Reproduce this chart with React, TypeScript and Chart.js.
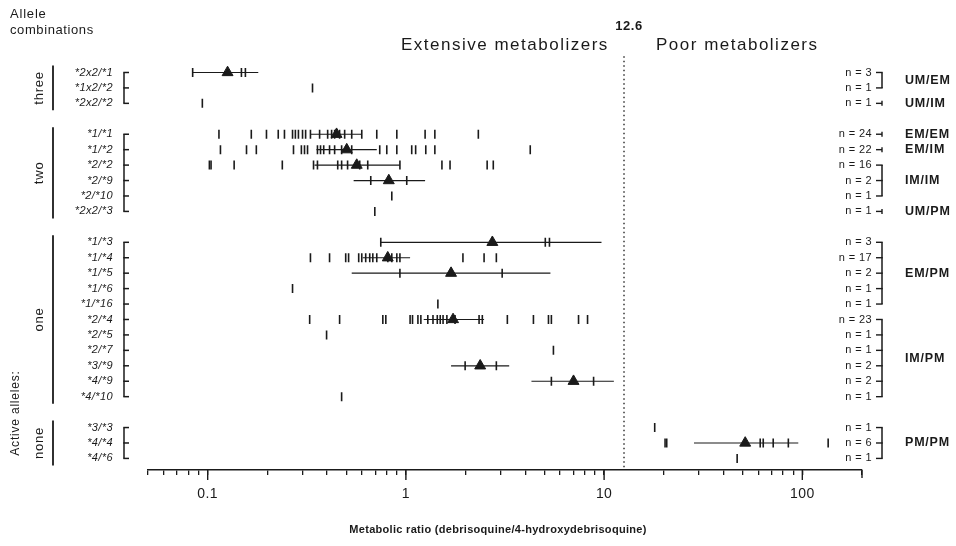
import React, { useEffect, useRef } from 'react';
import { Chart, registerables } from 'chart.js';

Chart.register(...registerables);

// ---------- data ----------
const genotypes = [
  '*2x2/*1', '*1x2/*2', '*2x2/*2',
  '*1/*1', '*1/*2', '*2/*2', '*2/*9', '*2/*10', '*2x2/*3',
  '*1/*3', '*1/*4', '*1/*5', '*1/*6', '*1/*16', '*2/*4', '*2/*5', '*2/*7', '*3/*9', '*4/*9', '*4/*10',
  '*3/*3', '*4/*4', '*4/*6',
];
// vertical slot of each genotype row (blank slots separate the allele groups)
const rowSlots = [0, 1, 2, 4, 5, 6, 7, 8, 9, 11, 12, 13, 14, 15, 16, 17, 18, 19, 20, 21, 23, 24, 25];

const ratios_2x2_1 = [0.084, 0.148, 0.155];
const ratios_1x2_2 = [0.338];
const ratios_2x2_2 = [0.094];
const ratios_1_1 = [0.114, 0.166, 0.198, 0.227, 0.244, 0.268, 0.277, 0.287, 0.301, 0.312, 0.33, 0.367, 0.403, 0.422, 0.437, 0.463, 0.491, 0.533, 0.599, 0.713, 0.9, 1.25, 1.4, 2.32];
const ratios_1_2 = [0.116, 0.157, 0.176, 0.271, 0.297, 0.308, 0.319, 0.358, 0.371, 0.385, 0.412, 0.437, 0.474, 0.533, 0.738, 0.801, 0.9, 1.07, 1.12, 1.26, 1.4, 4.24];
const ratios_2_2 = [0.102, 0.104, 0.136, 0.238, 0.342, 0.358, 0.453, 0.474, 0.508, 0.585, 0.642, 0.933, 1.52, 1.67, 2.57, 2.76];
const ratios_2_9 = [0.665, 1.01];
const ratios_2_10 = [0.849];
const ratios_2x2_3 = [0.697];
const ratios_1_3 = [0.747, 5.05, 5.3];
const ratios_1_4 = [0.33, 0.412, 0.497, 0.514, 0.578, 0.599, 0.627, 0.657, 0.681, 0.713, 0.811, 0.849, 0.9, 0.933, 1.94, 2.48, 2.86];
const ratios_1_5 = [0.933, 3.06];
const ratios_1_6 = [0.268];
const ratios_1_16 = [1.45];
const ratios_2_4 = [0.327, 0.463, 0.765, 0.792, 1.05, 1.08, 1.15, 1.19, 1.29, 1.37, 1.44, 1.49, 1.54, 1.61, 1.77, 2.34, 2.43, 3.25, 4.4, 5.24, 5.42, 7.43, 8.25];
const ratios_2_5 = [0.398];
const ratios_2_7 = [5.55];
const ratios_3_9 = [1.99, 2.86];
const ratios_4_9 = [5.42, 8.85];
const ratios_4_10 = [0.474];
const ratios_3_3 = [18.0];
const ratios_4_4 = [20.3, 20.7, 61.3, 63.5, 71.3, 85.0, 135];
const ratios_4_6 = [46.9];

const individualRatios = [
  ratios_2x2_1, ratios_1x2_2, ratios_2x2_2,
  ratios_1_1, ratios_1_2, ratios_2_2, ratios_2_9, ratios_2_10, ratios_2x2_3,
  ratios_1_3, ratios_1_4, ratios_1_5, ratios_1_6, ratios_1_16, ratios_2_4, ratios_2_5, ratios_2_7, ratios_3_9, ratios_4_9, ratios_4_10,
  ratios_3_3, ratios_4_4, ratios_4_6,
];

const meanRatios = [0.126, null, null, 0.447, 0.503, 0.565, 0.82, null, null, 2.73, 0.81, 1.69, null, null, 1.73, null, null, 2.37, 7.01, null, null, 51.5, null];
const barLow = [0.0835, null, null, 0.33, 0.354, 0.346, 0.545, null, null, 0.747, 0.606, 0.533, null, null, 1.23, null, null, 1.69, 4.3, null, null, 28.4, null];
const barHigh = [0.18, null, null, 0.6, 0.713, 0.933, 1.25, null, null, 9.7, 1.05, 5.36, null, null, 2.48, null, null, 3.32, 11.2, null, null, 95.4, null];

const nCounts = [3, 1, 1, 24, 22, 16, 2, 1, 1, 3, 17, 2, 1, 1, 23, 1, 1, 2, 2, 1, 1, 6, 1];

const phenotypeLabels = ['UM/EM', 'UM/IM', 'EM/EM', 'EM/IM', 'IM/IM', 'UM/PM', 'EM/PM', 'IM/PM', 'PM/PM'];
const phenotypeFirst = [0, 2, 3, 4, 5, 8, 9, 14, 20];
const phenotypeLast = [1, 2, 3, 4, 7, 8, 13, 19, 22];

const alleleGroupLabels = ['three', 'two', 'one', 'none'];
const alleleGroupFirst = [0, 3, 9, 20];
const alleleGroupLast = [2, 8, 19, 22];

const threshold = 12.6;
const xTickValues = [0.05, 0.06, 0.07, 0.08, 0.09, 0.1, 0.2, 0.3, 0.4, 0.5, 0.6, 0.7, 0.8, 0.9, 1, 2, 3, 4, 5, 6, 7, 8, 9, 10, 20, 30, 40, 50, 60, 70, 80, 90, 100, 200];
const xMajorTicks = [0.1, 1, 10, 100];
const xTickLabels = ['0.1', '1', '10', '100'];

// ---------- styling ----------
const INK = '#1a1a1a';
const FONT = '"Liberation Sans", Arial, Helvetica, sans-serif';

function drawText(ctx: CanvasRenderingContext2D, str: string, x: number, y: number, font: string, align: CanvasTextAlign = 'left', rotate = 0, spacing = '0px') {
  ctx.save();
  ctx.font = font;
  ctx.fillStyle = INK;
  ctx.textAlign = align;
  ctx.textBaseline = 'middle';
  try { (ctx as any).letterSpacing = spacing; } catch (e) { /* ignore */ }
  ctx.translate(x, y);
  if (rotate) ctx.rotate(rotate);
  ctx.fillText(str, 0, 0);
  ctx.restore();
}

function line(ctx: CanvasRenderingContext2D, pts: number[][], w = 1.4) {
  ctx.save();
  ctx.strokeStyle = INK;
  ctx.lineWidth = w;
  ctx.beginPath();
  pts.forEach((p, i) => (i === 0 ? ctx.moveTo(p[0], p[1]) : ctx.lineTo(p[0], p[1])));
  ctx.stroke();
  ctx.restore();
}

const decorations = {
  id: 'decorations',
  beforeDraw(chart: any) {
    const ctx = chart.ctx as CanvasRenderingContext2D;
    ctx.save();
    ctx.fillStyle = '#ffffff';
    ctx.fillRect(0, 0, chart.width, chart.height);
    ctx.restore();
    try { (ctx as any).letterSpacing = '0.4px'; } catch (e) { /* ignore */ }
  },
  afterDraw(chart: any) {
    const ctx = chart.ctx as CanvasRenderingContext2D;
    const xs = chart.scales.x;
    const ys = chart.scales.y;
    const py = (i: number) => ys.getPixelForValue(rowSlots[i]);
    const bottom = chart.chartArea.bottom;

    // major tick extensions
    xMajorTicks.forEach((v) => {
      const px = xs.getPixelForValue(v);
      line(ctx, [[px, bottom], [px, bottom + 10]], 1.4);
    });
    const pEnd = xs.getPixelForValue(200);
    line(ctx, [[pEnd, bottom], [pEnd, bottom + 8]], 1.4);

    // headers
    drawText(ctx, 'Allele', 10, 14, `13px ${FONT}`, 'left', 0, '0.8px');
    drawText(ctx, 'combinations', 10, 30, `13px ${FONT}`, 'left', 0, '0.6px');
    drawText(ctx, 'Extensive metabolizers', 401, 45, `17px ${FONT}`, 'left', 0, '1.5px');
    drawText(ctx, 'Poor metabolizers', 656, 45, `17px ${FONT}`, 'left', 0, '1.5px');
    drawText(ctx, String(threshold), xs.getPixelForValue(threshold) + 5, 26, `bold 13px ${FONT}`, 'center', 0, '0.5px');
    drawText(ctx, 'Active alleles:', 16, 413, `12px ${FONT}`, 'center', -Math.PI / 2, '0.8px');
    drawText(ctx, 'Metabolic ratio (debrisoquine/4-hydroxydebrisoquine)', 498, 530, `bold 11px ${FONT}`, 'center', 0, '0.3px');

    // allele groups (left)
    alleleGroupLabels.forEach((name, g) => {
      const y0 = py(alleleGroupFirst[g]);
      const y1 = py(alleleGroupLast[g]);
      line(ctx, [[53, y0 - 7], [53, y1 + 7]], 1.8);
      drawText(ctx, name, 39, (y0 + y1) / 2, `13px ${FONT}`, 'center', -Math.PI / 2, '0.8px');
      line(ctx, [[124, y0], [124, y1]], 1.5);
      for (let i = alleleGroupFirst[g]; i <= alleleGroupLast[g]; i++) {
        const yy = py(i);
        line(ctx, [[123.3, yy], [129, yy]], 1.5);
      }
    });

    // n counts (right)
    nCounts.forEach((n, i) => {
      drawText(ctx, `n = ${n}`, 872, py(i), `11px ${FONT}`, 'right', 0, '0.4px');
    });

    // phenotype brackets
    phenotypeLabels.forEach((lab, g) => {
      const a = phenotypeFirst[g];
      const b = phenotypeLast[g];
      const y0 = py(a);
      const y1 = py(b);
      if (a === b) {
        line(ctx, [[876, y0], [882, y0]], 1.4);
        line(ctx, [[882, y0 - 2.5], [882, y0 + 2.5]], 1.4);
      } else {
        line(ctx, [[882, y0], [882, y1]], 1.5);
        for (let i = a; i <= b; i++) {
          const yy = py(i);
          line(ctx, [[876, yy], [882.7, yy]], 1.4);
        }
      }
      drawText(ctx, lab, 905, (y0 + y1) / 2, `bold 12.5px ${FONT}`, 'left', 0, '0.8px');
    });
  },
};

export default function App() {
  const ref = useRef<HTMLCanvasElement>(null);

  useEffect(() => {
    const canvas = ref.current;
    if (!canvas) return;

    const pointData: { x: number; y: number }[] = [];
    individualRatios.forEach((vals, i) => vals.forEach((v) => pointData.push({ x: v, y: rowSlots[i] })));

    const meanData: { x: number; y: number }[] = [];
    const barData: { x: number; y: number | null }[] = [];
    meanRatios.forEach((m, i) => {
      if (m == null) return;
      meanData.push({ x: m, y: rowSlots[i] });
      barData.push({ x: barLow[i] as number, y: rowSlots[i] });
      barData.push({ x: barHigh[i] as number, y: rowSlots[i] });
      barData.push({ x: barHigh[i] as number, y: null });
    });

    const chart = new Chart(canvas, {
      type: 'scatter',
      data: {
        datasets: [
          {
            label: 'mean',
            data: meanData,
            pointStyle: 'triangle',
            pointRadius: 6.3,
            pointHoverRadius: 6.3,
            backgroundColor: INK,
            borderColor: INK,
            borderWidth: 1,
          },
          {
            label: 'individuals',
            data: pointData,
            pointStyle: 'line',
            rotation: 90,
            pointRadius: 4.5,
            pointHoverRadius: 4.5,
            borderColor: INK,
            backgroundColor: INK,
            borderWidth: 1.6,
          },
          {
            label: 'range',
            data: barData as any,
            showLine: true,
            spanGaps: false,
            pointRadius: 0,
            pointHoverRadius: 0,
            borderColor: INK,
            borderWidth: 1.2,
          },
          {
            label: 'threshold',
            data: [{ x: threshold, y: -1.05 }, { x: threshold, y: 25.75 }],
            showLine: true,
            pointRadius: 0,
            pointHoverRadius: 0,
            borderColor: '#333',
            borderWidth: 1.5,
            borderDash: [1.5, 3],
          },
        ],
      },
      options: {
        animation: false,
        responsive: false,
        devicePixelRatio: 1,
        events: [],
        layout: { padding: { top: 19, right: 94, left: 0, bottom: 0 } },
        plugins: { legend: { display: false }, tooltip: { enabled: false }, title: { display: false } },
        scales: {
          x: {
            type: 'logarithmic',
            min: 0.05,
            max: 200,
            afterBuildTicks: (s: any) => { s.ticks = xTickValues.map((v) => ({ value: v })); },
            afterFit: (s: any) => { s.height = 76; },
            ticks: {
              autoSkip: false,
              maxRotation: 0,
              padding: 11,
              color: INK,
              font: { family: FONT, size: 14 },
              callback: (v: any) => {
                const k = xMajorTicks.indexOf(Number(v));
                return k >= 0 ? xTickLabels[k] : '';
              },
            },
            grid: { display: true, drawOnChartArea: false, drawTicks: true, tickLength: 5, color: INK, lineWidth: 1.3 },
            border: { display: true, color: INK, width: 1.6 },
          },
          y: {
            type: 'linear',
            reverse: true,
            min: -2,
            max: 25.75,
            afterBuildTicks: (s: any) => { s.ticks = rowSlots.map((v) => ({ value: v })); },
            afterFit: (s: any) => { s.width = 148; },
            ticks: {
              autoSkip: false,
              padding: 35,
              color: INK,
              font: { family: FONT, size: 11, style: 'italic' },
              callback: (v: any) => {
                const k = rowSlots.indexOf(Number(v));
                return k >= 0 ? genotypes[k] : '';
              },
            },
            grid: { display: false, drawTicks: false },
            border: { display: false },
          },
        },
      },
      plugins: [decorations],
    } as any);

    return () => chart.destroy();
  }, []);

  return (
    <div style={{ position: 'fixed', left: 0, top: 0, width: 956, height: 546, background: '#fff' }}>
      <canvas ref={ref} width={956} height={546} style={{ display: 'block', width: 956, height: 546 }} />
    </div>
  );
}
